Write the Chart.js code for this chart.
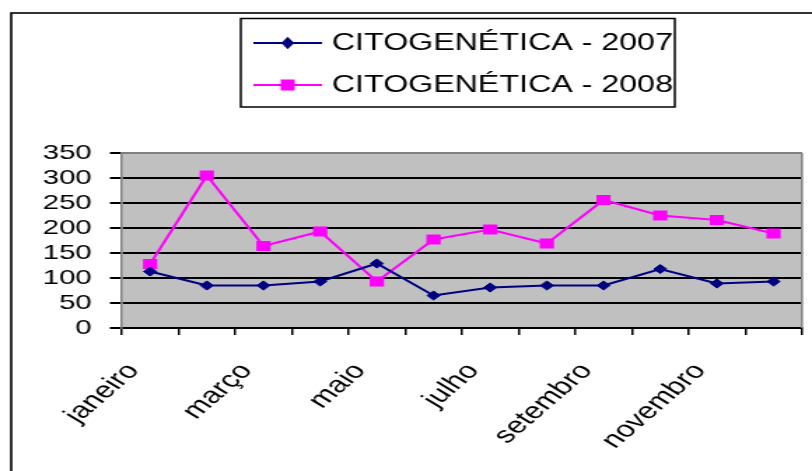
<!DOCTYPE html>
<html>
<head>
<meta charset="utf-8">
<script src="https://cdn.jsdelivr.net/npm/chart.js@4/dist/chart.umd.min.js"></script>
<style>
  html, body { margin: 0; padding: 0; background: #fff; overflow: hidden; }
  #wrap { width: 580px; height: 471px; transform: scaleX(1.4); transform-origin: 0 0; }
  canvas { display: block; }
</style>
</head>
<body>
<div id="wrap"><canvas id="c" width="580" height="471"></canvas></div>
<script>
const categories = ['janeiro','fevereiro','março','abril','maio','junho','julho','agosto','setembro','outubro','novembro','dezembro'];
const series2007 = [113, 85, 85, 93, 129, 65, 81, 85, 85, 118, 89, 93];
const series2008 = [128, 305, 164, 193, 93, 177, 197, 169, 256, 225, 216, 189];
const seriesLabels = ['CITOGENÉTICA - 2007', 'CITOGENÉTICA - 2008'];
const yMin = 0, yMax = 350, yStep = 50;

const FONT = "'Liberation Sans', Arial, sans-serif";

const framePlugin = {
  id: 'frame',
  beforeDraw(chart) {
    const { ctx, chartArea: a } = chart;
    ctx.save();
    ctx.fillStyle = '#ffffff';
    ctx.fillRect(0, 0, chart.width, chart.height);
    ctx.strokeStyle = '#000';
    ctx.lineWidth = 1.6;
    ctx.strokeRect(8, 13, 700, 600);
    ctx.fillStyle = '#C0C0C0';
    ctx.fillRect(a.left, a.top, a.right - a.left, a.bottom - a.top);
    ctx.restore();
  },
  beforeDatasetsDraw(chart) {
    const { ctx, chartArea: a } = chart;
    ctx.save();
    ctx.strokeStyle = '#808080';
    ctx.lineWidth = 2;
    ctx.beginPath();
    ctx.moveTo(a.left, a.top);
    ctx.lineTo(a.right, a.top);
    ctx.stroke();
    ctx.lineWidth = 1.5;
    ctx.beginPath();
    ctx.moveTo(a.right, a.top);
    ctx.lineTo(a.right, a.bottom);
    ctx.stroke();
    ctx.restore();
  },
  afterDraw(chart) {
    const { ctx } = chart;
    ctx.save();
    ctx.strokeStyle = '#000';
    ctx.lineWidth = 1.5;
    ctx.strokeRect(172, 18.5, 310, 88.5);
    const rows = [43, 85];
    chart.data.datasets.forEach((ds, i) => {
      const y = rows[i];
      ctx.strokeStyle = ds.borderColor;
      ctx.lineWidth = 2;
      ctx.beginPath();
      ctx.moveTo(181, y);
      ctx.lineTo(230, y);
      ctx.stroke();
      ctx.fillStyle = ds.pointBackgroundColor;
      const cx = 205.5;
      if (ds.pointStyle === 'rectRot') {
        const r = 4.6;
        ctx.beginPath();
        ctx.moveTo(cx - r, y); ctx.lineTo(cx, y - r * 1.35); ctx.lineTo(cx + r, y); ctx.lineTo(cx, y + r * 1.35);
        ctx.closePath(); ctx.fill();
      } else {
        ctx.fillRect(cx - 5, y - 5.5, 10, 11);
      }
      ctx.fillStyle = '#000';
      ctx.font = '23px ' + FONT;
      ctx.textBaseline = 'middle';
      ctx.textAlign = 'left';
      ctx.fillText(ds.label, 237, y + 1);
    });
    ctx.restore();
  }
};

new Chart(document.getElementById('c'), {
  type: 'line',
  data: {
    labels: categories,
    datasets: [
      {
        label: seriesLabels[0],
        data: series2007,
        borderColor: '#000080',
        backgroundColor: '#000080',
        pointBackgroundColor: '#000080',
        pointBorderColor: '#000080',
        borderWidth: 2,
        pointStyle: 'rectRot',
        pointRadius: 4.6,
        pointBorderWidth: 1,
        tension: 0
      },
      {
        label: seriesLabels[1],
        data: series2008,
        borderColor: '#FF00FF',
        backgroundColor: '#FF00FF',
        pointBackgroundColor: '#FF00FF',
        pointBorderColor: '#FF00FF',
        borderWidth: 2,
        pointStyle: 'rect',
        pointRadius: 7.2,
        pointBorderWidth: 0,
        tension: 0
      }
    ]
  },
  options: {
    responsive: false,
    animation: false,
    devicePixelRatio: 1,
    layout: { padding: { left: 0, top: 153, right: 7, bottom: 0 } },
    plugins: { legend: { display: false }, title: { display: false }, tooltip: { enabled: false } },
    scales: {
      x: {
        offset: true,
        grid: { offset: true, drawOnChartArea: false, color: '#000', tickLength: 7, tickWidth: 1.5, lineWidth: 1.5 },
        border: { display: true, color: '#000', width: 2 },
        ticks: {
          autoSkip: false,
          minRotation: 50,
          maxRotation: 50,
          padding: 23,
          labelOffset: -12,
          color: '#000',
          font: { family: FONT, size: 23 },
          callback: function(v, i) { return i % 2 === 0 ? categories[i] : ''; }
        },
        afterFit(s) { s.height = 143; s.paddingLeft = 0; s.paddingRight = 0; }
      },
      y: {
        min: yMin,
        max: yMax,
        grid: {
          color: (c) => (c.tick && c.tick.value === yMax) ? '#808080' : '#000',
          tickColor: '#000',
          lineWidth: 2,
          tickLength: 8.5
        },
        border: { display: true, color: '#808080', width: 1.5 },
        ticks: {
          autoSkip: false,
          stepSize: yStep,
          padding: 13,
          color: '#000',
          font: { family: FONT, size: 21 }
        },
        afterFit(s) { s.width = 87; }
      }
    }
  },
  plugins: [framePlugin]
});
</script>
</body>
</html>
